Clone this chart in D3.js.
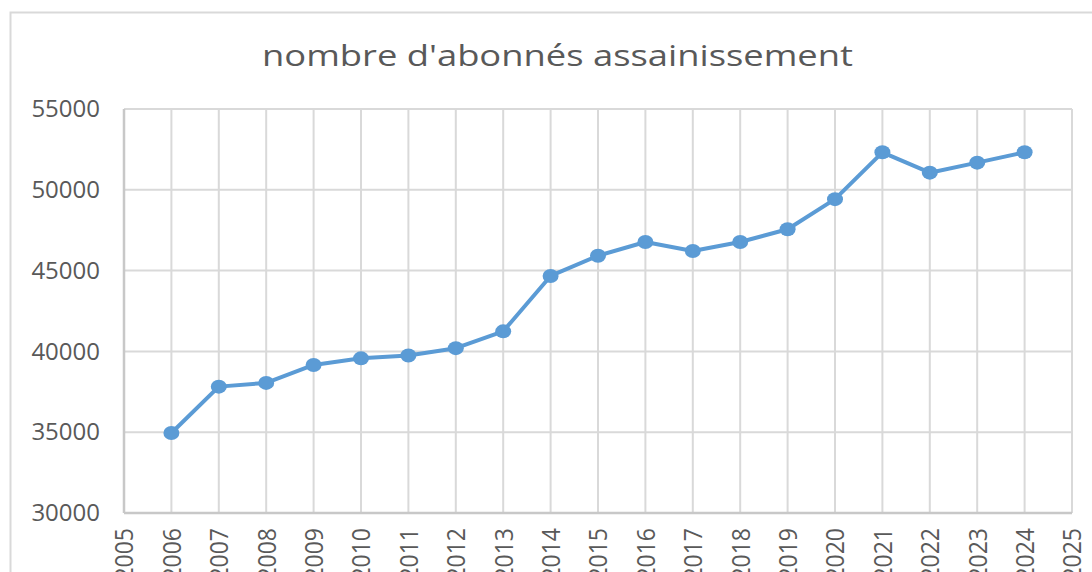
<!DOCTYPE html>
<html>
<head>
<meta charset="utf-8">
<script src="https://cdn.jsdelivr.net/npm/d3@7"></script>
<style>
  body { margin: 0; background: #fff; overflow: hidden; }
  svg { display: block; }
</style>
</head>
<body>
<div id="viz"></div>
<script>
// ========================================
// Data
// ========================================
var years = [2006, 2007, 2008, 2009, 2010, 2011, 2012, 2013, 2014, 2015,
             2016, 2017, 2018, 2019, 2020, 2021, 2022, 2023, 2024];
var abonnes = [34950, 37820, 38050, 39160, 39570, 39750, 40200, 41240, 44670, 45920,
               46770, 46210, 46770, 47560, 49420, 52320, 51060, 51680, 52320];
var y_ticks = [30000, 35000, 40000, 45000, 50000, 55000];
var title_text = "nombre d'abonnés assainissement";

// ========================================
// Layout
// ========================================
var width = 1092, height = 572;
var margin = {left: 124, right: 20, top: 109, bottom: 59};
var text_color = '#595959',
    grid_color = '#d9d9d9',
    axis_color = '#c8c8c8',
    line_color = '#5b9bd5';

var svg = d3.select("#viz")
   .append("svg")
   .attr("width", width)
   .attr("height", height);

// chart frame
svg.append("rect")
   .attr("x", 10.5).attr("y", 12.5)
   .attr("width", 1110).attr("height", 600)
   .style("fill", "none")
   .style("stroke", grid_color)
   .style("stroke-width", 2);

// title (the source picture is stretched a bit horizontally)
svg.append("text")
   .attr("x", 262)
   .attr("y", 66)
   .attr("textLength", 591)
   .attr("lengthAdjust", "spacingAndGlyphs")
   .style("font-family", "'Open Sans'")
   .style("font-size", "30px")
   .style("fill", text_color)
   .text(title_text);

var x = d3.scaleLinear().domain([2005, 2025]).range([margin.left, width - margin.right]);
var y = d3.scaleLinear().domain([30000, 55000]).range([height - margin.bottom, margin.top]);

var g = svg.append("g");

// horizontal grid
g.selectAll(".hgrid")
   .data(y_ticks)
   .enter()
   .append("line")
   .attr("x1", x(2005)).attr("x2", x(2025))
   .attr("y1", d => y(d)).attr("y2", d => y(d))
   .style("stroke", grid_color)
   .style("stroke-width", 2);

// vertical grid
g.selectAll(".vgrid")
   .data(d3.range(2005, 2026))
   .enter()
   .append("line")
   .attr("x1", d => x(d)).attr("x2", d => x(d))
   .attr("y1", y(55000)).attr("y2", y(30000))
   .style("stroke", grid_color)
   .style("stroke-width", 2);

// axes lines
g.append("line")
   .attr("x1", x(2005)).attr("x2", x(2005))
   .attr("y1", y(55000)).attr("y2", y(30000))
   .style("stroke", axis_color).style("stroke-width", 2.5);
g.append("line")
   .attr("x1", x(2005)).attr("x2", x(2025))
   .attr("y1", y(30000)).attr("y2", y(30000))
   .style("stroke", axis_color).style("stroke-width", 2.5);

// y labels
var yAxis = d3.axisLeft(y).tickValues(y_ticks).tickSize(0).tickPadding(24).tickFormat(d3.format("d"));
svg.append("g")
   .attr("transform", `translate(${x(2005)},0)`)
   .call(yAxis)
   .call(a => a.select(".domain").remove())
   .selectAll("text")
   .style("font-family", "'Open Sans'")
   .style("font-size", "24px")
   .style("fill", text_color);

// x labels, rotated
var xAxis = d3.axisBottom(x).tickValues(d3.range(2005, 2026)).tickSize(0).tickFormat(d3.format("d"));
svg.append("g")
   .attr("transform", `translate(0,${y(30000)})`)
   .call(xAxis)
   .call(a => a.select(".domain").remove())
   .selectAll("text")
   .attr("transform", "scale(1.1,1) rotate(-90)")
   .attr("text-anchor", "end")
   .attr("x", -15)
   .attr("y", 0)
   .attr("dy", "0.35em")
   .style("font-family", "'Open Sans'")
   .style("font-size", "23px")
   .style("fill", text_color);

// series
var line = d3.line()
   .x((d, i) => x(years[i]))
   .y(d => y(d));

svg.append("path")
   .datum(abonnes)
   .attr("d", line)
   .style("fill", "none")
   .style("stroke", line_color)
   .style("stroke-width", 4)
   .style("stroke-linejoin", "round");

svg.selectAll(".dot")
   .data(abonnes)
   .enter()
   .append("ellipse")
   .attr("cx", (d, i) => x(years[i]))
   .attr("cy", d => y(d))
   .attr("rx", 8)
   .attr("ry", 7)
   .style("fill", line_color);
</script>
</body>
</html>
